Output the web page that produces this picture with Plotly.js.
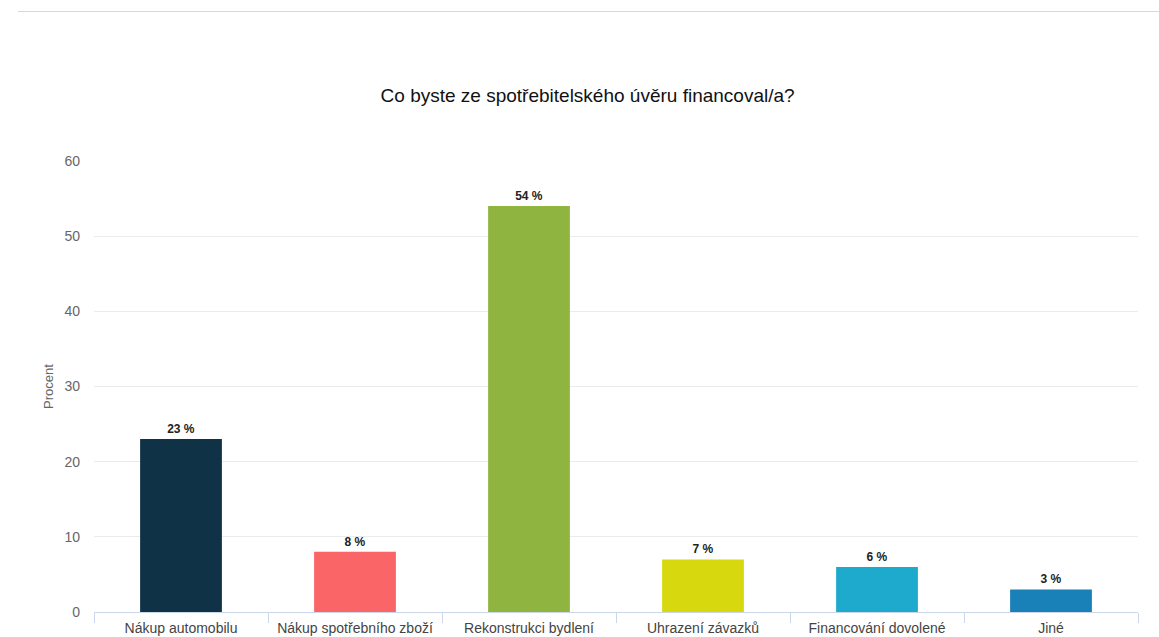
<!DOCTYPE html>
<html><head><meta charset="utf-8">
<script src="https://cdn.plot.ly/plotly-3.0.1.min.js"></script>
<style>html,body{margin:0;padding:0;background:#fff}#chart{width:1159px;height:637px}
#line{position:absolute;left:18px;top:11px;width:1141px;height:1px;background:#d8d8d8}</style>
</head><body><div id="line"></div><div id="chart"></div>
<script>
const categories = ["Nákup automobilu","Nákup spotřebního zboží","Rekonstrukci bydlení","Uhrazení závazků","Financování dovolené","Jiné"];
const values = [23, 8, 54, 7, 6, 3];
const labels = ["23 %","8 %","54 %","7 %","6 %","3 %"];
const colors = ["#0f3246","#fa6567","#8fb540","#d8d80e","#1eaacd","#1a80b8"];
const yTicks = [0,10,20,30,40,50,60];

Plotly.newPlot('chart', [{
  type:'bar', x:categories, y:values, text:labels, textposition:'outside',
  textfont:{family:'Arial, Liberation Sans, sans-serif', size:12, color:'#222'},
  texttemplate:'<b>%{text}</b>', marker:{color:colors}, cliponaxis:false, hoverinfo:'none'
}], {
  width:1159, height:637,
  margin:{l:94, r:21, t:161, b:25},
  paper_bgcolor:'rgba(0,0,0,0)', plot_bgcolor:'rgba(0,0,0,0)',
  bargap:0.53,
  title:{text:'Co byste ze spotřebitelského úvěru financoval/a?', x:0.507, xanchor:'center', y:1-95/637, yanchor:'middle',
    font:{family:'Arial, Liberation Sans, sans-serif', size:19, color:'#111'}},
  xaxis:{tickson:'boundaries', ticks:'outside', ticklen:10, tickcolor:'#ccd6eb', showline:true, linecolor:'#ccd6eb',
    ticklabelstandoff:3,
    tickfont:{family:'Arial, Liberation Sans, sans-serif', size:14, color:'#444'}, fixedrange:true},
  yaxis:{range:[0,60], tickvals:yTicks, gridcolor:'#ebebeb', zeroline:false, ticks:'', ticklabelstandoff:13,
    tickfont:{family:'Arial, Liberation Sans, sans-serif', size:14, color:'#666'},
    title:{text:'Procent', standoff:7, font:{family:'Arial, Liberation Sans, sans-serif', size:13, color:'#666'}}},
  showlegend:false
}, {displayModeBar:false, staticPlot:true});
</script></body></html>
